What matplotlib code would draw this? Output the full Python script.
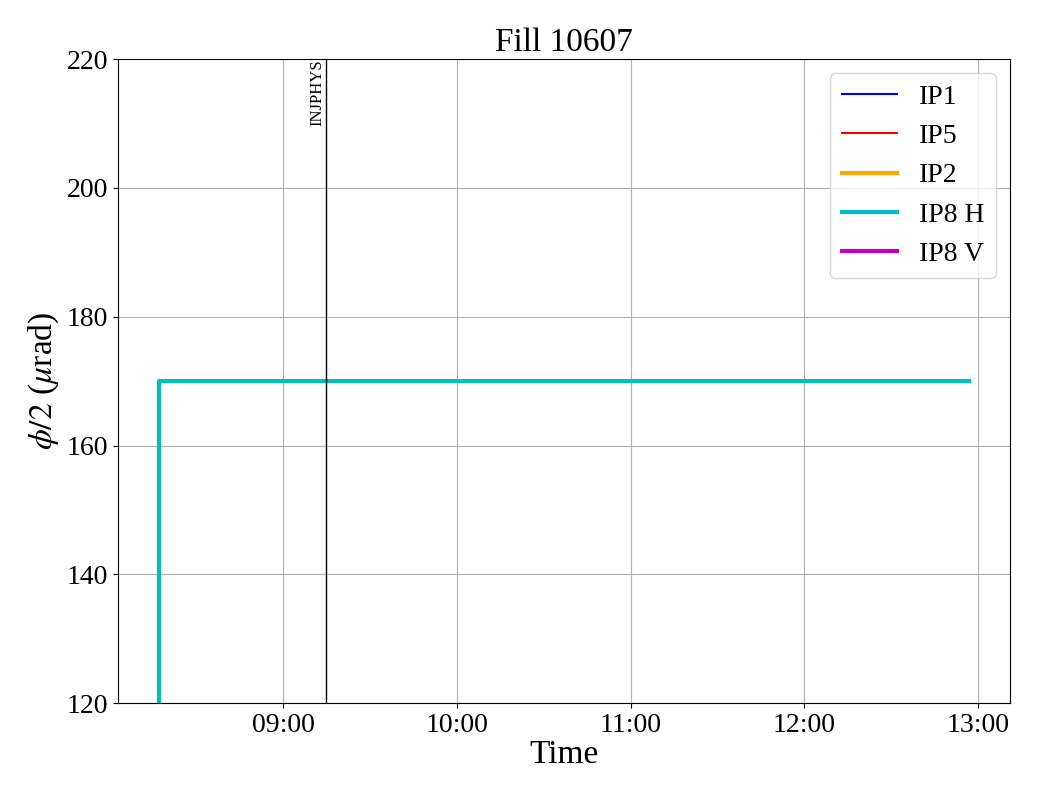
import numpy as np
import pandas as pd
import matplotlib
matplotlib.use("Agg")
import matplotlib.pyplot as plt
import matplotlib.dates as mdates

plt.rcParams['font.family'] = ['Liberation Serif', 'DejaVu Serif']
plt.rcParams['mathtext.fontset'] = 'stix'

fill = 10607
# crossing angle samples (only IP8 H has values in range)
t_ip8h = pd.to_datetime(["2025-05-20 08:17:00", "2025-05-20 08:17:10", "2025-05-20 12:57:00"])
v_ip8h = [0, 170, 170]
t_empty = pd.to_datetime([])
v_empty = []

mode_time = pd.Timestamp("2025-05-20 09:14:45")
mode_name = "INJPHYS"

fig, ax = plt.subplots(figsize=(10.4, 8), dpi=100)
fig.subplots_adjust(left=0.1135, right=0.971, top=0.926, bottom=0.121)

ax.plot(t_empty, v_empty, color='b', lw=1.5, label='IP1')
ax.plot(t_empty, v_empty, color='r', lw=1.5, label='IP5')
ax.plot(t_empty, v_empty, color='orange', lw=3, label='IP2')
ax.plot(t_ip8h, v_ip8h, color='c', lw=3, label='IP8 H', drawstyle='steps-post')
ax.plot(t_empty, v_empty, color='m', lw=3, label='IP8 V')

ax.axvline(mode_time, color='k', lw=1)
ax.set_ylim(120, 220)
ax.text(mode_time, 220, mode_name, rotation=90, ha='right', va='top', fontsize=12)

ax.xaxis.set_major_formatter(mdates.DateFormatter('%H:%M'))
ax.xaxis.set_major_locator(mdates.HourLocator())
ax.grid()
ax.tick_params(labelsize=20)
ax.set_xlabel("Time", fontsize=24, labelpad=1)
ax.set_ylabel(r"$\phi/2$ ($\mu$rad)", fontsize=24)
ax.set_title(f"Fill {fill}", fontsize=24)
ax.legend(fontsize=20, loc='upper right')

plt.savefig("out.png")
